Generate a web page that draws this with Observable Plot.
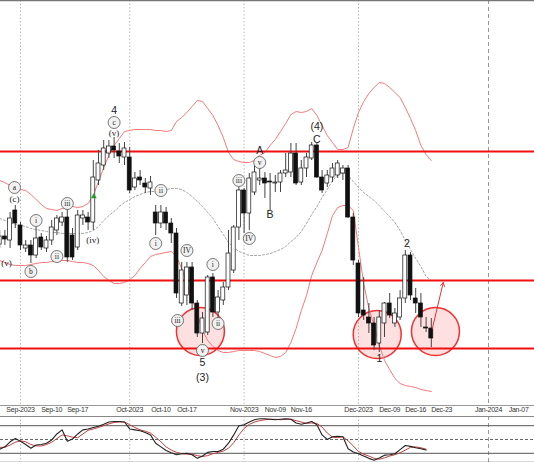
<!DOCTYPE html>
<html><head><meta charset="utf-8">
<script src="https://cdn.jsdelivr.net/npm/d3@7"></script>
<script src="https://cdn.jsdelivr.net/npm/@observablehq/plot@0.6"></script>
<style>
body{margin:0;background:#fff;}
#chart svg{display:block;}
g[aria-label="x-axis tick label"] text{letter-spacing:-0.25px;}
</style></head><body><div id="chart"></div>
<script>
// bar index of the first candle (0 = Sep 1, 2023; trading days)
const START = -4;
const opens = [1756,1764,1760,1790,1775,1752,1755,1745,1763,1752,
1760,1770,1778,1783,1765,1753,1782,1783,1778,1820,
1835,1847,1854,1849,1843,1843,1813,1823,1817,1812,
1788,1777,1788,1777,1767,1697,1705,1733,1697,1667,
1668,1723,1688,1700,1713,1730,1773,1810,1787,1808,
1820,1822,1819,1817,1818,1827,1828,1847,1818,1832,
1842,1855,1823,1817,1823,1825,1827,1832,1783,1737,
1690,1683,1677,1657,1677,1697,1677,1683,1702,1745,
1702,1697,1673,1672];
const closes = [1764,1761,1782,1777,1755,1755,1745,1762,1753,1760,
1773,1782,1783,1743,1743,1785,1785,1778,1823,1837,
1852,1854,1850,1844,1852,1810,1822,1820,1813,1818,
1777,1788,1777,1767,1707,1730,1733,1697,1667,1682,
1723,1688,1703,1713,1747,1773,1810,1787,1822,1828,
1822,1817,1818,1818,1827,1830,1847,1817,1832,1843,
1855,1823,1810,1825,1832,1837,1832,1783,1740,1687,
1685,1677,1655,1683,1697,1685,1687,1702,1745,1705,
1697,1683,1672,1662];
const highs = [1770,1770,1788,1795,1778,1760,1760,1773,1767,1764,
1780,1785,1788,1793,1772,1790,1790,1788,1840,1850,
1860,1860,1863,1857,1858,1853,1828,1830,1822,1824,
1795,1795,1793,1782,1772,1738,1738,1738,1700,1688,
1725,1727,1710,1718,1770,1775,1813,1812,1827,1837,
1832,1828,1827,1825,1830,1847,1857,1857,1840,1847,
1858,1857,1830,1830,1837,1840,1835,1835,1787,1740,
1723,1697,1683,1690,1698,1707,1692,1710,1750,1748,
1712,1707,1683,1682];
const lows = [1752,1755,1752,1772,1750,1748,1737,1742,1750,1748,
1755,1765,1774,1738,1740,1750,1775,1770,1770,1815,
1830,1842,1842,1837,1835,1807,1810,1815,1807,1805,
1765,1772,1770,1757,1702,1694,1695,1690,1663,1657,
1665,1683,1682,1695,1710,1727,1760,1767,1770,1805,
1815,1802,1790,1808,1808,1823,1823,1815,1815,1823,
1840,1822,1807,1813,1818,1822,1820,1782,1735,1683,
1680,1667,1650,1648,1663,1682,1673,1680,1697,1700,
1687,1673,1668,1653];
// Bollinger bands
const bandUpper = [1820,1818,1815,1813,1811,1810,1806,1801,1796,1792,
1791,1790,1792,1793,1794,1793,1794,1797,1805,1819,
1833,1845,1855,1862,1869,1870,1871,1871,1871,1871,
1870,1870,1869,1870,1879,1883,1888,1894,1900,1899,
1892,1885,1875,1863,1848,1841,1839,1838,1838,1840,
1845,1848,1855,1861,1869,1877,1886,1889,1888,1889,
1892,1885,1875,1865,1858,1851,1851,1853,1872,1888,
1899,1907,1913,1918,1917,1913,1908,1903,1893,1882,
1870,1855,1846,1840];
const bandMiddle = [1782,1780,1778,1776,1775,1774,1772,1771,1770,1769,
1768,1768,1767,1767,1767,1767,1767,1768,1770,1774,
1780,1785,1789,1794,1798,1801,1804,1806,1808,1809,
1809,1810,1811,1812,1812,1811,1808,1804,1799,1794,
1788,1782,1774,1766,1758,1753,1749,1747,1745,1745,
1745,1746,1747,1749,1751,1754,1759,1763,1769,1777,
1786,1794,1803,1811,1820,1825,1828,1825,1819,1813,
1808,1804,1800,1795,1789,1784,1778,1770,1760,1751,
1742,1734,1724,1720];
const bandLower = [1740,1738,1736,1735,1735,1735,1736,1737,1738,1738,
1739,1739,1740,1740,1739,1738,1738,1737,1735,1730,
1724,1720,1717,1717,1718,1721,1725,1732,1738,1744,
1746,1747,1748,1749,1744,1732,1717,1702,1686,1670,
1660,1654,1650,1648,1648,1649,1650,1650,1650,1650,
1649,1647,1645,1643,1644,1648,1658,1672,1690,1705,
1725,1738,1750,1767,1785,1793,1795,1795,1790,1753,
1717,1692,1675,1655,1640,1631,1622,1617,1615,1614,
1613,1611,1610,1609];
// oscillator (%K black, %D red), starts at START
const oscK = [29,34,45,52,46,39,31,38,39,42,
49,62,71,46,51,62,71,73,76,79,
83,88,89,89,88,73,71,69,65,60,
42,34,26,21,17,19,20,17,9,14,
22,24,24,29,42,60,80,82,88,93,
95,95,94,93,94,95,94,86,83,86,
89,82,60,50,56,57,56,30,23,19,
14,9,5,10,16,17,19,28,37,35,
32,30,27];
const oscD = [33,33,38,44,47,45,39,36,36,39,
44,52,60,58,55,54,62,70,73,76,
80,84,87,88,88,82,76,71,68,64,
55,45,34,27,22,19,18,18,15,13,
15,19,22,25,31,43,60,74,83,88,
91,93,94,94,93,94,94,91,88,85,
86,85,77,64,55,54,56,47,36,24,
18,14,9,7,10,14,17,21,27,33,
34,32,29];
const oscLevels = [80, 20];
const oscMid = [50];
// axis ticks (bar index) and labels
const tickIdx = [0,6,11,21,27,32,43,49,54,65,71,76,81,90,95.8];
const tickLabels = ["Sep-2023","Sep-10","Sep-17","Oct-2023","Oct-10","Oct-17","Nov-2023","Nov-09","Nov-16","Dec-2023","Dec-09","Dec-16","Dec-23","Jan-2024","Jan-07"];
const monthGrid = [0,21,43,65];
const yearGrid = [90];
// horizontal levels
const levels = [1849,1720,1652];
// highlight circles
const circleIdx = [34.6,68.6,79.8];
const circlePrice = [1669,1666,1669];
// Elliott labels
const plainLabels = [[18,1890,"4"],[35,1638,"5"],[35,1623,"(3)"],[46,1850,"A"],[48,1786,"B"],[57,1874,"(4)"],[57,1861,"C"],[69,1642,"1"],[74.3,1757,"2"]];
const serifLabels = [[-1.15,1801,"(c)"],[18,1867,"(v)"],[13.9,1760,"(iv)"],[-2.7,1737,"(v)"]];
const circledLabels = [[-1.15,1813,"a"],[2,1729,"b"],[3,1780,"i"],[7,1744,"ii"],[9,1797,"iii"],[18,1878,"c"],
[27,1810,"ii"],[26,1757,"i"],[32,1750,"IV"],[30.2,1680,"iii"],[37,1736,"i"],[38,1677,"ii"],[35,1650,"v"],
[42,1820,"iii"],[44,1762,"IV"],[46,1838,"v"]];
const signalUp = [[14.1,1804]];
const arrowFrom = [79.2,1672], arrowTo = [81.3,1718];

const candles = opens.map((o,j)=>({i:START+j,o,c:closes[j],h:highs[j],l:lows[j]}));
const bands = bandUpper.map((u,j)=>({i:START+j,u,m:bandMiddle[j],lo:bandLower[j]}));
const osc = oscK.map((k,j)=>({i:START+j,k,d:oscD[j]}));
const labelOf = new Map(tickIdx.map((t,k)=>[t,tickLabels[k]]));
const circles = circleIdx.map((x,k)=>({x,y:circlePrice[k]}));
const toObj = a=>a.map(([x,y,t])=>({x,y,t}));

const xDomain = [-20/5.2,(534-20)/5.2];
const font = "Liberation Sans, Arial, sans-serif";
const serif = "Liberation Serif, Times New Roman, serif";

const main = Plot.plot({
  width:534, height:416, marginTop:0, marginBottom:11, marginLeft:0, marginRight:0,
  style:{fontFamily:font, background:"#fff"},
  x:{domain:xDomain},
  y:{domain:[1595,2000], axis:null},
  marks:[
    Plot.ruleX(monthGrid,{stroke:"#bbb",strokeDasharray:"1.5,2"}),
    Plot.ruleX(yearGrid,{stroke:"#999",strokeDasharray:"4,3"}),
    Plot.ruleY([2000],{stroke:"#777",strokeWidth:1.5}),
    Plot.ruleY([1595],{stroke:"#999"}),
    Plot.axisX(tickIdx,{tickSize:0,tickPadding:2,fontSize:7,fill:"#333",tickFormat:d=>labelOf.get(d)}),
    Plot.dot(circles,{x:"x",y:"y",r:24,fill:"#ff0000",fillOpacity:0.12,stroke:"#f03030",strokeWidth:1.5}),
    Plot.line(bands,{x:"i",y:"u",stroke:"#f47a7a",strokeWidth:1,clip:true}),
    Plot.line(bands,{x:"i",y:"lo",stroke:"#f47a7a",strokeWidth:1,clip:true}),
    Plot.line(bands,{x:"i",y:"m",stroke:"#999",strokeWidth:0.9,strokeDasharray:"2,2",clip:true}),
    Plot.ruleY(levels,{stroke:"#f01010",strokeWidth:2}),
    Plot.ruleX(candles,{x:"i",y1:"l",y2:"h",stroke:"#444",strokeWidth:1,clip:true}),
    Plot.rect(candles,{x1:d=>d.i-0.38,x2:d=>d.i+0.38,y1:"o",y2:"c",
      fill:d=>d.c>=d.o?"#fff":"#111",stroke:"#111",strokeWidth:0.7,clip:true}),
    Plot.dot(signalUp,{x:d=>d[0],y:d=>d[1],symbol:"triangle",r:2.2,fill:"#2a9d2a"}),
    Plot.arrow([0],{x1:()=>arrowFrom[0],y1:()=>arrowFrom[1],x2:()=>arrowTo[0],y2:()=>arrowTo[1],stroke:"#e83030",strokeWidth:1,headLength:6}),
    Plot.dot(toObj(circledLabels),{x:"x",y:"y",r:6,fill:"#f2f2f2",stroke:"#555",strokeWidth:0.8}),
    Plot.text(toObj(circledLabels),{x:"x",y:"y",text:"t",fontSize:7.5,fontFamily:serif,fill:"#222"}),
    Plot.text(toObj(serifLabels),{x:"x",y:"y",text:"t",fontSize:9,fontFamily:serif,fill:"#222"}),
    Plot.text(toObj(plainLabels),{x:"x",y:"y",text:"t",fontSize:10.5,fontFamily:font,fill:"#222"})
  ]
});

const lower = Plot.plot({
  width:534, height:46, margin:0,
  style:{fontFamily:font, background:"#fff"},
  x:{domain:xDomain, axis:null},
  y:{domain:[0,100], axis:null},
  marks:[
    Plot.ruleX(monthGrid,{stroke:"#bbb",strokeDasharray:"1.5,2"}),
    Plot.ruleX(yearGrid,{stroke:"#999",strokeDasharray:"4,3"}),
    Plot.ruleY([100],{stroke:"#888"}),
    Plot.ruleY([0],{stroke:"#666",strokeWidth:1.5}),
    Plot.ruleY(oscLevels,{stroke:"#555"}),
    Plot.ruleY(oscMid,{stroke:"#666",strokeDasharray:"3,2"}),
    Plot.line(osc,{x:"i",y:"d",stroke:"#c04040",strokeWidth:1,clip:true}),
    Plot.line(osc,{x:"i",y:"k",stroke:"#222",strokeWidth:1.1,clip:true})
  ]
});

const el = document.getElementById("chart");
el.append(main, lower);
</script>
</body></html>
